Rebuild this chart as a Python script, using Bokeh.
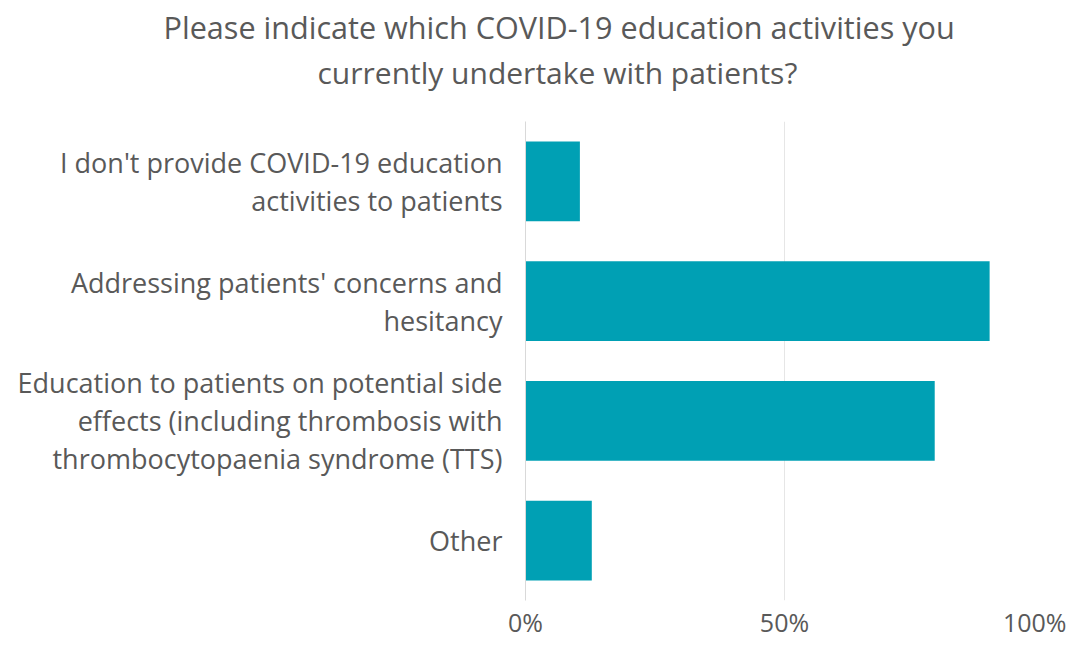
from bokeh.plotting import figure
from bokeh.models import FactorRange, Range1d, FixedTicker, CustomJSTickFormatter, Title
from bokeh.embed import file_html
from bokeh.resources import INLINE

categories = [
    "I don't provide COVID-19 education\nactivities to patients",
    "Addressing patients' concerns and\nhesitancy",
    "Education to patients on potential side\neffects (including thrombosis with\nthrombocytopaenia syndrome (TTS)",
    "Other",
]
values = [10.5, 89.6, 79, 12.8]
x_ticks = [0, 50, 100]
title_lines = [
    "Please indicate which COVID-19 education activities you",
    "currently undertake with patients?",
]

FONT = "Open Sans"
TEXT = "#595959"

p = figure(
    width=1066, height=641,
    y_range=FactorRange(factors=list(reversed(categories))),
    x_range=Range1d(0, 100),
    output_backend="svg", toolbar_location=None, title_location=None,
    min_border_left=525, min_border_right=23, min_border_top=121, min_border_bottom=38,
)

p.hbar(y=categories, right=values, left=0, height=0.665, color="#00A0B4", line_color=None)

p.outline_line_color = None
p.ygrid.grid_line_color = None
p.xgrid.grid_line_color = "#E6E6E6"
p.xgrid.ticker = FixedTicker(ticks=x_ticks)

xa = p.xaxis[0]
xa.ticker = FixedTicker(ticks=x_ticks)
xa.formatter = CustomJSTickFormatter(code="return tick + '%';")
xa.axis_line_color = None
xa.major_tick_line_color = None
xa.minor_tick_line_color = None
xa.major_tick_out = 0
xa.major_tick_in = 0
xa.minor_tick_out = 0
xa.minor_tick_in = 0
xa.major_label_text_font = FONT
xa.major_label_text_font_size = "25px"
xa.major_label_text_color = TEXT
xa.major_label_standoff = 4

ya = p.yaxis[0]
ya.axis_line_color = "#D9D9D9"
ya.major_tick_line_color = None
ya.minor_tick_line_color = None
ya.major_tick_out = 0
ya.major_tick_in = 0
ya.minor_tick_out = 0
ya.minor_tick_in = 0
ya.major_label_text_font = FONT
ya.major_label_text_font_size = "27px"
ya.major_label_text_color = TEXT
ya.major_label_standoff = 23
ya.major_label_text_line_height = 1.03
ya.major_label_text_align = "right"

# later-added titles stack further from the plot frame
p.add_layout(Title(text=" ", text_font_size="10px", standoff=14), "above")
p.add_layout(Title(text=title_lines[1], align="left", offset=-208,
                   text_font=FONT, text_font_size="30px", text_font_style="normal",
                   text_color=TEXT, standoff=4), "above")
p.add_layout(Title(text=title_lines[0], align="left", offset=-362,
                   text_font=FONT, text_font_size="30.6px", text_font_style="normal",
                   text_color=TEXT, standoff=0), "above")

open("out.html", "w").write(file_html(p, INLINE))
